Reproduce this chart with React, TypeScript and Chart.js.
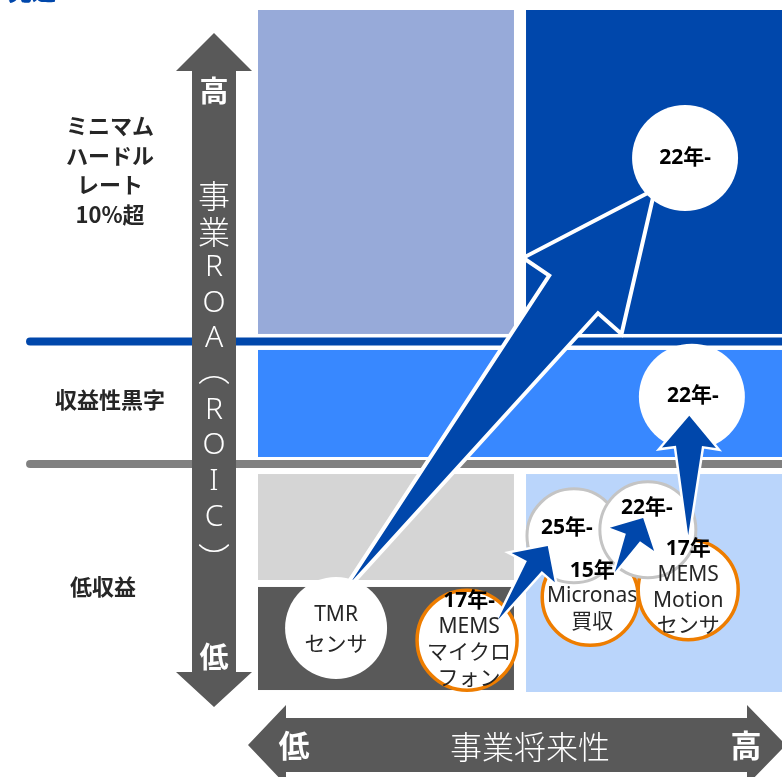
import { useEffect, useRef } from "react";
import { Chart, registerables } from "chart.js";

Chart.register(...registerables);

// ---------------- data ----------------
const headerTitle = "見通";
const rowLabels = [["ミニマム", "ハードル", "レート", "10%超"], ["収益性黒字"], ["低収益"]];
const rowLevels = [76.5, 42.8, 15.5];
const yAxisTitle = ["事", "業", "R", "O", "A", "︵", "R", "O", "I", "C", "︶"];
const yAxisEnds = ["高", "低"];
const xAxisTitle = "事業将来性";
const xAxisEnds = ["低", "高"];

// zones (data units: x = 事業将来性 0-100, y = 事業ROA 0-100)
const zoneX0 = [0, 51.15, 0, 0, 0, 51.15];
const zoneX1 = [48.85, 100, 100, 48.85, 48.85, 100];
const zoneY0 = [52.5, 52.5, 34.46, 16.42, 0.29, 0];
const zoneY1 = [100, 100, 50.15, 31.96, 15.4, 31.96];

// threshold lines (ミニマムハードルレート / 黒字)
const thresholdY = [51.39, 33.43];
const thresholdXStart = [-43.5, -43.5];

// businesses: current (white), planned (grey ring), acquired/started (orange ring)
const currentLabels = [["TMR", "センサ"], ["22年-"], ["22年-"]];
const currentX = [14.9, 81.5, 82.8];
const currentY = [9.4, 78.3, 43.3];
const plannedLabels = [["25年-"], ["22年-"]];
const plannedX = [60.3, 74.4];
const plannedY = [22.9, 23.8];
const acquiredLabels = [["17年-", "MEMS", "マイクロ", "フォン"], ["15年", "Micronas", "買収"], ["17年", "MEMS", "Motion", "センサ"]];
const acquiredX = [39.9, 63.4, 82.1];
const acquiredY = [7.6, 13.9, 15.0];

// transitions (arrows)
const arrowFromX = [17.75, 45.8, 68.1, 82.1];
const arrowFromY = [16.13, 10.6, 17.6, 23.0];
const arrowToX = [75.19, 55.3, 73.5, 82.3];
const arrowToY = [73.17, 21.4, 25.5, 40.5];

// ---------------- styles ----------------
const CJK = '"Noto Sans", "Noto Sans CJK JP", sans-serif';
const JP = '"Noto Sans CJK JP", "Noto Sans", sans-serif';
const zoneColors = ["#97AAD9", "#0047AB", "#3888FF", "#D5D5D5", "#595959", "#BAD5FB"];
const thresholdColors = ["#0047AB", "#808080"];
const currentRadius = [51, 53, 53];
const plannedRadius = [47, 48];
const acquiredRadius = [50, 48, 50];
const currentText = [{ dx: 0, dy: 2, lh: 30 }, { dx: 0, dy: 0, lh: 26 }, { dx: 1, dy: -1, lh: 26 }];
const plannedText = [{ dx: -7, dy: -8, lh: 26 }, { dx: -1, dy: -22, lh: 26 }];
const acquiredText = [{ dx: 2, dy: 0, lh: 26 }, { dx: 2, dy: -1, lh: 25.5 }, { dx: 0, dy: -2, lh: 25.7 }];
const arrowShapes = [
  { hl: 128, hw: 59, nb: 126, nw: 29, ow: 8 },
  { hl: 26, hw: 26, nb: 24, nw: 9, ow: 5 },
  { hl: 24, hw: 25, nb: 22, nw: 8, ow: 5 },
  { hl: 32, hw: 27, nb: 30, nw: 13, ow: 5 },
];
const rowLabelDx = [0, 0, -7];

function arrowPath(ctx: CanvasRenderingContext2D, x0: number, y0: number, x1: number, y1: number, s: any) {
  const dx = x1 - x0, dy = y1 - y0;
  const L = Math.hypot(dx, dy);
  const ux = dx / L, uy = dy / L;
  const nx = -uy, ny = ux;
  const P = (a: number, b: number) => [x1 + ux * a + nx * b, y1 + uy * a + ny * b];
  const pts = [P(0, 0), P(-s.hl, s.hw), P(-s.nb, s.nw), [x0, y0], P(-s.nb, -s.nw), P(-s.hl, -s.hw)];
  ctx.beginPath();
  pts.forEach((p, i) => (i === 0 ? ctx.moveTo(p[0], p[1]) : ctx.lineTo(p[0], p[1])));
  ctx.closePath();
}

function drawArrow(chart: any, i: number) {
  const ctx: CanvasRenderingContext2D = chart.ctx;
  const xs = chart.scales.x, ys = chart.scales.y;
  const s = arrowShapes[i];
  const x0 = xs.getPixelForValue(arrowFromX[i]), y0 = ys.getPixelForValue(arrowFromY[i]);
  const x1 = xs.getPixelForValue(arrowToX[i]), y1 = ys.getPixelForValue(arrowToY[i]);
  ctx.save();
  arrowPath(ctx, x0, y0, x1, y1, s);
  ctx.lineJoin = "miter";
  ctx.miterLimit = 20;
  ctx.strokeStyle = "#FFFFFF";
  ctx.lineWidth = s.ow;
  ctx.stroke();
  ctx.fillStyle = "#0047AB";
  ctx.fill();
  ctx.restore();
}

function drawCircleTexts(chart: any, xsArr: number[], ysArr: number[], labels: string[][], st: any[]) {
  const ctx: CanvasRenderingContext2D = chart.ctx;
  const xs = chart.scales.x, ys = chart.scales.y;
  ctx.save();
  ctx.textAlign = "center";
  ctx.textBaseline = "middle";
  labels.forEach((lines, i) => {
    const cx = xs.getPixelForValue(xsArr[i]) + st[i].dx;
    const cy = ys.getPixelForValue(ysArr[i]) + st[i].dy;
    const n = lines.length;
    lines.forEach((t, k) => {
      const bold = t.includes("年");
      ctx.font = bold ? `bold 21px ${CJK}` : `21px ${CJK}`;
      ctx.fillStyle = bold ? "#000000" : "#262626";
      ctx.fillText(t, cx, cy + (k - (n - 1) / 2) * st[i].lh);
    });
  });
  ctx.restore();
}

const diagramPlugin = {
  id: "diagram",
  beforeDatasetsDraw(chart: any) {
    const ctx: CanvasRenderingContext2D = chart.ctx;
    const xs = chart.scales.x, ys = chart.scales.y;
    const ca = chart.chartArea;
    ctx.save();
    // header (cut at the top)
    ctx.fillStyle = "#0047AB";
    ctx.font = `bold 24px ${JP}`;
    ctx.textAlign = "left";
    ctx.textBaseline = "ideographic";
    ctx.fillText(headerTitle, 8, 3);

    // zones
    for (let i = 0; i < zoneColors.length; i++) {
      const xa = xs.getPixelForValue(zoneX0[i]), xb = xs.getPixelForValue(zoneX1[i]);
      const ya = ys.getPixelForValue(zoneY1[i]), yb = ys.getPixelForValue(zoneY0[i]);
      ctx.fillStyle = zoneColors[i];
      ctx.fillRect(xa, ya, xb - xa, yb - ya);
    }
    // threshold lines
    thresholdY.forEach((v, i) => {
      const y = ys.getPixelForValue(v);
      ctx.beginPath();
      ctx.moveTo(xs.getPixelForValue(thresholdXStart[i]), y);
      ctx.lineTo(xs.getPixelForValue(100) + 10, y);
      ctx.lineCap = "round";
      ctx.lineWidth = 8;
      ctx.strokeStyle = thresholdColors[i];
      ctx.stroke();
    });

    // vertical axis arrow
    const vx = ca.left - 44;
    const tTop = ca.top + 23, bTop = ca.top + 61, bBot = ca.bottom - 20, tBot = ca.bottom + 15;
    ctx.fillStyle = "#595959";
    ctx.beginPath();
    ctx.moveTo(vx, tTop);
    ctx.lineTo(vx + 38, bTop);
    ctx.lineTo(vx + 22, bTop);
    ctx.lineTo(vx + 22, bBot);
    ctx.lineTo(vx + 38, bBot);
    ctx.lineTo(vx, tBot);
    ctx.lineTo(vx - 38, bBot);
    ctx.lineTo(vx - 22, bBot);
    ctx.lineTo(vx - 22, bTop);
    ctx.lineTo(vx - 38, bTop);
    ctx.closePath();
    ctx.fill();
    ctx.fillStyle = "#FFFFFF";
    ctx.textAlign = "center";
    ctx.textBaseline = "middle";
    ctx.font = `bold 29px ${JP}`;
    ctx.fillText(yAxisEnds[0], vx, ca.top + 81);
    ctx.fillText(yAxisEnds[1], vx, ca.bottom - 35);
    yAxisTitle.forEach((c, k) => {
      const latin = /[A-Z]/.test(c);
      ctx.font = latin ? `300 30px ${CJK}` : `300 32px ${JP}`;
      let y = ca.top + 186 + k * 35.7;
      if (c === "︵") y -= 6;
      if (c === "︶") y += 6;
      ctx.fillText(c, vx, y);
    });

    // horizontal axis arrow
    const hy = ca.bottom + 53;
    const lTip = ca.left - 10, lBase = ca.left + 28, rBase = ca.right - 35, rTip = ca.right + 4;
    ctx.fillStyle = "#595959";
    ctx.beginPath();
    ctx.moveTo(lTip, hy);
    ctx.lineTo(lBase, hy - 40);
    ctx.lineTo(lBase, hy - 27);
    ctx.lineTo(rBase, hy - 27);
    ctx.lineTo(rBase, hy - 40);
    ctx.lineTo(rTip, hy);
    ctx.lineTo(rBase, hy + 40);
    ctx.lineTo(rBase, hy + 27);
    ctx.lineTo(lBase, hy + 27);
    ctx.lineTo(lBase, hy + 40);
    ctx.closePath();
    ctx.fill();
    ctx.fillStyle = "#FFFFFF";
    ctx.font = `bold 31px ${JP}`;
    ctx.fillText(xAxisEnds[0], ca.left + 36, hy);
    ctx.fillText(xAxisEnds[1], ca.right - 36, hy);
    ctx.font = `300 32px ${JP}`;
    ctx.fillText(xAxisTitle, (ca.left + ca.right) / 2 + 10, hy + 2);

    // row labels
    ctx.fillStyle = "#262626";
    ctx.font = `bold 22px ${JP}`;
    rowLabels.forEach((lines, i) => {
      const cy = ys.getPixelForValue(rowLevels[i]);
      const n = lines.length;
      lines.forEach((t, k) => {
        ctx.fillText(t, ca.left - 148 + rowLabelDx[i], cy + (k - (n - 1) / 2) * 29.5);
      });
    });
    ctx.restore();

    // main transition arrow (TMR -> 22年-)
    drawArrow(chart, 0);
  },
  afterDatasetsDraw(chart: any) {
    for (let i = 1; i < arrowFromX.length; i++) drawArrow(chart, i);
    drawCircleTexts(chart, currentX, currentY, currentLabels, currentText);
    drawCircleTexts(chart, plannedX, plannedY, plannedLabels, plannedText);
    drawCircleTexts(chart, acquiredX, acquiredY, acquiredLabels, acquiredText);
  },
};

function bubbles(xs: number[], ys: number[], rs: number[]) {
  return xs.map((x, i) => ({ x, y: ys[i], r: rs[i] }));
}

export default function App() {
  const ref = useRef<HTMLCanvasElement>(null);
  useEffect(() => {
    const canvas = ref.current;
    if (!canvas) return;
    let alive = true;
    const chart = new Chart(canvas, {
      type: "bubble",
      data: {
        datasets: [
          {
            label: "現状",
            data: bubbles(currentX, currentY, currentRadius),
            backgroundColor: "#FFFFFF",
            borderColor: "#FFFFFF",
            borderWidth: 0,
            clip: false,
          },
          {
            label: "計画",
            data: bubbles(plannedX, plannedY, plannedRadius),
            backgroundColor: "#FFFFFF",
            borderColor: "#C4C4C4",
            borderWidth: 3,
            clip: false,
          },
          {
            label: "参入",
            data: bubbles(acquiredX, acquiredY, acquiredRadius),
            backgroundColor: "#FFFFFF",
            borderColor: "#EE7D00",
            borderWidth: 3.5,
            clip: false,
          },
        ],
      } as any,
      options: {
        animation: false,
        responsive: true,
        maintainAspectRatio: false,
        events: [],
        layout: { autoPadding: false, padding: { left: 258, right: 0, top: 10, bottom: 85 } },
        plugins: { legend: { display: false }, tooltip: { enabled: false } },
        scales: {
          x: { type: "linear", min: 0, max: 100, display: false },
          y: { type: "linear", min: 0, max: 100, display: false },
        },
      } as any,
      plugins: [diagramPlugin as any],
    });
    const fonts = (document as any).fonts;
    if (fonts && fonts.load) {
      Promise.all([
        fonts.load(`bold 22px "Noto Sans CJK JP"`),
        fonts.load(`300 32px "Noto Sans CJK JP"`),
        fonts.load(`21px "Noto Sans"`),
        fonts.load(`bold 21px "Noto Sans"`),
      ])
        .catch(() => null)
        .then(() => {
          if (alive) chart.draw();
        });
    }
    return () => {
      alive = false;
      chart.destroy();
    };
  }, []);
  return (
    <div style={{ position: "fixed", left: 0, top: 0, width: 782, height: 777, background: "#FFFFFF" }}>
      <canvas ref={ref} />
    </div>
  );
}
